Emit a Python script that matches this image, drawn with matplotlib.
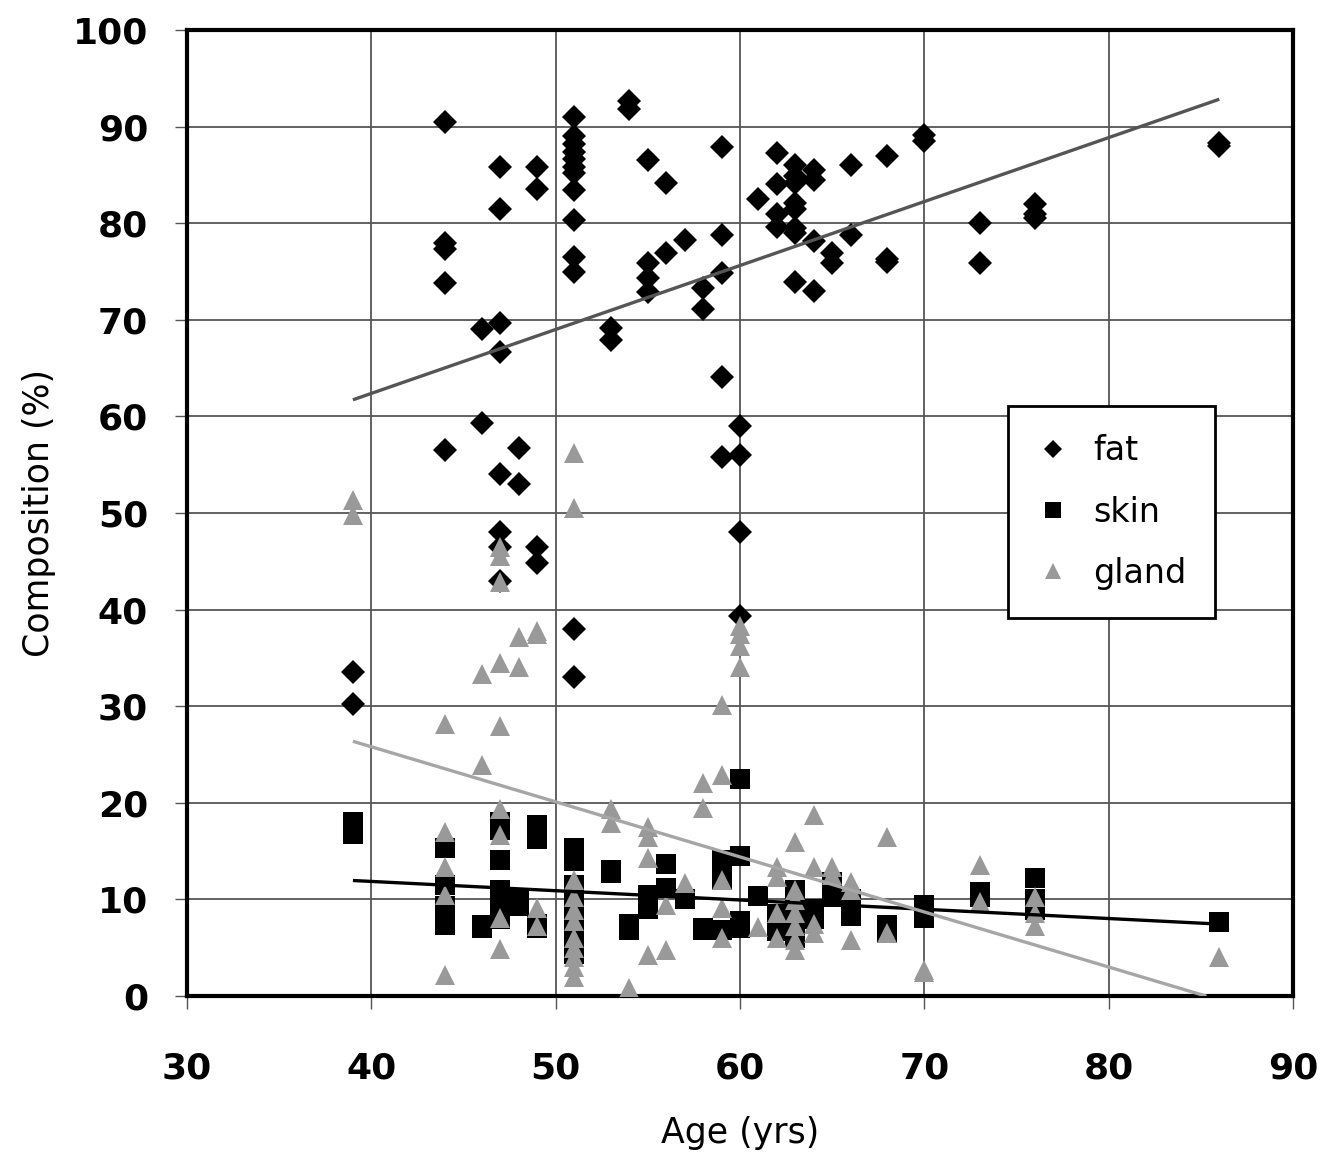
import matplotlib
matplotlib.use("Agg")
import matplotlib.pyplot as plt
import numpy as np

# ---- data ----
fat_age = [39, 39,
           44, 44, 44, 44, 44,
           46, 46,
           47, 47, 47, 47, 47, 47, 47, 47,
           48, 48,
           49, 49, 49, 49,
           51, 51, 51, 51, 51, 51, 51, 51, 51, 51, 51, 51, 51,
           53, 53, 54, 54,
           55, 55, 55, 55,
           56, 56, 57, 58, 58,
           59, 59, 59, 59, 59,
           60, 60, 60, 60,
           61, 62, 62, 62, 62,
           63, 63, 63, 63, 63, 63, 63, 63,
           64, 64, 64, 64,
           65, 65, 66, 66, 68, 68, 68, 70, 70, 73, 73, 76, 76, 76, 86, 86]
fat_pct = [33.5, 30.2,
           90.5, 78.0, 77.3, 73.8, 56.5,
           69.0, 59.3,
           85.8, 81.5, 69.7, 66.7, 54.0, 48.0, 46.5, 43.0,
           56.7, 53.0,
           85.8, 83.5, 46.5, 44.8,
           91.0, 89.0, 88.2, 87.4, 86.6, 85.8, 85.2, 83.4, 80.3, 76.5, 74.9, 38.0, 33.0,
           69.2, 67.9, 92.6, 91.8,
           86.5, 75.9, 74.3, 72.9,
           84.2, 76.9, 78.3, 73.3, 71.1,
           87.9, 78.8, 74.8, 64.1, 55.8,
           59.0, 56.0, 48.0, 39.3,
           82.5, 87.3, 84.1, 81.0, 79.6,
           86.0, 84.9, 84.2, 82.1, 81.5, 79.5, 79.0, 73.9,
           85.5, 84.5, 78.2, 73.0,
           76.9, 75.9, 86.0, 78.8, 87.0, 76.3, 76.0, 89.1, 88.5, 80.0, 75.9, 82.0, 81.0, 80.5, 88.3, 88.0]

skin_age = [39, 39,
            44, 44, 44, 44, 44,
            46, 46,
            47, 47, 47, 47, 47, 47, 47, 47,
            48, 48,
            49, 49, 49, 49,
            51, 51, 51, 51, 51, 51, 51, 51, 51, 51,
            53, 53, 54, 54,
            55, 55, 55, 55,
            56, 56, 57, 58, 58,
            59, 59, 59, 59, 59,
            60, 60, 60, 60,
            61, 62, 62, 62, 62,
            63, 63, 63, 63, 63, 63, 63, 63,
            64, 64, 64, 64,
            65, 65, 66, 66, 68, 68, 70, 70, 73, 73, 76, 76, 76, 86]
skin_pct = [18.0, 16.8,
            15.3, 11.5, 9.3, 9.0, 7.3,
            7.4, 7.0,
            18.0, 17.2, 14.1, 11.0, 10.5, 9.8, 8.8, 8.0,
            10.0, 9.3,
            17.7, 16.3, 7.5, 7.0,
            15.3, 14.0, 11.5, 10.5, 9.0, 8.0, 7.0, 6.0, 5.0, 4.3,
            13.0, 12.7, 7.5, 6.8,
            10.5, 9.8, 9.5, 9.0,
            13.7, 11.2, 10.0, 7.0, 6.8,
            14.1, 13.5, 12.7, 12.0, 6.8,
            22.5, 14.5, 7.8, 7.0,
            10.4, 8.5, 7.3, 7.0, 6.7,
            11.0, 10.5, 10.0, 9.5, 8.7, 8.0, 7.2, 6.0,
            9.0, 8.6, 8.3, 8.0,
            11.8, 10.2, 10.0, 8.3, 7.3, 6.5, 9.4, 8.1, 10.8, 10.3, 12.2, 10.0, 8.9, 7.7]

gland_age = [39, 39,
             44, 44, 44, 44, 44,
             46, 46,
             47, 47, 47, 47, 47, 47, 47, 47, 47,
             48, 48,
             49, 49, 49, 49,
             51, 51, 51, 51, 51, 51, 51, 51, 51, 51, 51,
             53, 53, 54,
             55, 55, 55, 55,
             56, 56, 57, 58, 58,
             59, 59, 59, 59, 59,
             60, 60, 60, 60,
             61, 62, 62, 62, 62,
             63, 63, 63, 63, 63, 63, 63,
             64, 64, 64, 64,
             65, 65, 66, 66, 66, 68, 68, 70, 70, 73, 73, 76, 76, 76, 86]
gland_pct = [51.3, 49.8,
             28.2, 17.0, 13.4, 10.5, 2.2,
             33.3, 23.9,
             46.5, 45.5, 42.9, 34.5, 27.9, 19.4, 16.7, 8.1, 4.9,
             37.2, 34.1,
             37.8, 37.5, 9.1, 7.2,
             56.2, 50.5, 12.0, 10.3, 8.9, 7.8, 6.0, 5.0, 4.0, 3.0, 2.0,
             19.4, 17.9, 0.8,
             17.5, 16.5, 14.3, 4.2,
             9.4, 4.8, 11.7, 22.0, 19.5,
             30.1, 22.9, 12.0, 9.1, 6.0,
             38.3, 37.5, 36.2, 34.1,
             7.1, 13.4, 12.3, 8.6, 6.0,
             15.9, 11.0, 9.9, 8.6, 7.2, 5.8, 4.8,
             18.7, 13.4, 7.5, 6.5,
             13.4, 12.5, 11.8, 11.0, 5.8, 16.5, 6.5, 2.7, 2.5, 13.6, 9.7, 10.3, 8.6, 7.2, 4.0]

# linear trend lines: (age_start, age_end, slope, intercept)
fat_trend = (39, 86, 0.662, 35.9)
skin_trend = (39, 86, -0.096, 15.7)
gland_trend = (39, 85.3, -0.570, 48.6)

x_ticks = [30, 40, 50, 60, 70, 80, 90]
y_ticks = [0, 10, 20, 30, 40, 50, 60, 70, 80, 90, 100]

# ---- figure ----
W, H = 1337, 1163
fig = plt.figure(figsize=(W / 100, H / 100), dpi=100)
ax = fig.add_axes([187 / W, 1 - 996 / H, (1293 - 187) / W, (996 - 30) / H])

ax.set_xlim(30, 90)
ax.set_ylim(0, 100)
ax.set_xticks(x_ticks)
ax.set_yticks(y_ticks)

ax.grid(True, color="#555555", linewidth=1.3)
ax.set_axisbelow(True)
for sp in ax.spines.values():
    sp.set_linewidth(3.0)
    sp.set_color("black")
ax.tick_params(direction="out", length=9, width=1.0, color="#555555",
               labelsize=26)
ax.tick_params(axis="x", pad=31)
ax.tick_params(axis="y", pad=19)
for lab in ax.get_xticklabels() + ax.get_yticklabels():
    lab.set_fontweight("bold")

gray_tri = "#999999"

# series order as in the original: fat, then skin, then gland on top
ax.plot(fat_age, fat_pct, linestyle="none", marker="D", markersize=12,
        color="black", markeredgewidth=0, label="fat", zorder=3)
ax.plot(skin_age, skin_pct, linestyle="none", marker="s", markersize=15,
        color="black", markeredgewidth=0, label="skin", zorder=4)
ax.plot(gland_age, gland_pct, linestyle="none", marker="^", markersize=15,
        color=gray_tri, markeredgewidth=0, label="gland", zorder=5)

def trend(t, color, z):
    x0, x1, m, b = t
    xs = np.array([x0, x1])
    ax.plot(xs, m * xs + b, color=color, linewidth=2.4, zorder=z,
            solid_capstyle="butt")

trend(fat_trend, "#555555", 6)
trend(skin_trend, "black", 6)
trend(gland_trend, "#a6a6a6", 6)

ax.set_xlabel("Age (yrs)", fontsize=25, labelpad=22)
ax.set_ylabel("Composition (%)", fontsize=25, labelpad=12)

leg = ax.legend(loc="upper left",
                bbox_to_anchor=((1008 - 187) / (1293 - 187), (996 - 406) / (996 - 30)),
                fontsize=24, frameon=True, fancybox=False, framealpha=1,
                edgecolor="black", borderpad=0.85, labelspacing=0.85,
                handlelength=1.0, handletextpad=0.7, borderaxespad=0)
leg.get_frame().set_linewidth(2.0)
for h in leg.legend_handles:
    h.set_markersize(h.get_markersize() * 0.8)
leg.set_zorder(10)

fig.savefig("out.png", dpi=100)
